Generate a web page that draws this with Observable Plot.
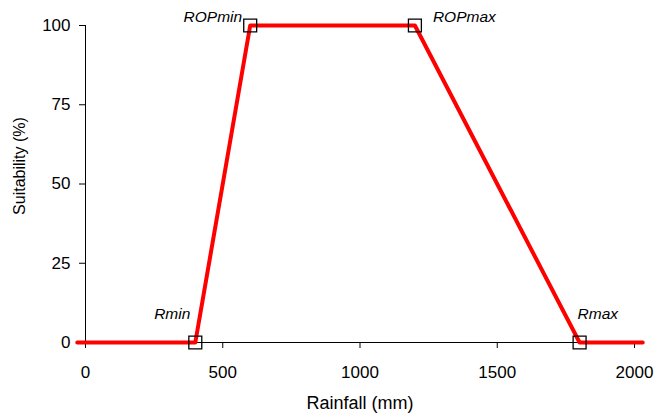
<!DOCTYPE html>
<html>
<head>
<meta charset="utf-8">
<script src="https://cdn.jsdelivr.net/npm/d3@7"></script>
<script src="https://cdn.jsdelivr.net/npm/@observablehq/plot@0.6"></script>
<style>
  html, body { margin: 0; padding: 0; background: #fff; }
  svg { display: block; }
</style>
</head>
<body>
<div id="chart"></div>
<script>
// Suitability curve (rainfall in mm, suitability in %)
const lineRain = [-30, 400, 600, 1200, 1800, 2030];
const lineSuit = [0, 0, 100, 100, 0, 0];

// Key points
const keyNames = ["Rmin", "ROPmin", "ROPmax", "Rmax"];
const keyRain = [400, 600, 1200, 1800];
const keySuit = [0, 100, 100, 0];

// Axes
const xTicks = [0, 500, 1000, 1500, 2000];
const yTicks = [0, 25, 50, 75, 100];
const xLabel = "Rainfall (mm)";
const yLabel = "Suitability (%)";

const lineData = lineRain.map((r, i) => ({rain: r, suit: lineSuit[i]}));
const keyData = keyNames.map((n, i) => ({name: n, rain: keyRain[i], suit: keySuit[i]}));

// label placement (style only)
const labelStyle = {
  Rmin:   {anchor: "end",   dx: -5,  dy: -28},
  ROPmin: {anchor: "end",   dx: -8,  dy: -8},
  ROPmax: {anchor: "start", dx: 18,  dy: -8},
  Rmax:   {anchor: "start", dx: -2,  dy: -28}
};

const font = "'Liberation Sans', Arial, sans-serif";

const labelMarks = keyData.map(d => Plot.text([d], {
  x: "rain", y: "suit", text: "name",
  textAnchor: labelStyle[d.name].anchor,
  dx: labelStyle[d.name].dx, dy: labelStyle[d.name].dy,
  fontSize: 15.5, fontStyle: "italic", fill: "#000"
}));

const chart = Plot.plot({
  width: 655,
  height: 417,
  marginLeft: 85,
  marginRight: 21,
  marginTop: 25,
  marginBottom: 75,
  style: {fontFamily: font, fontSize: "17px", background: "#fff", color: "#000"},
  x: {domain: [0, 2000], ticks: xTicks, tickSize: 6, tickPadding: 17, label: null, tickFormat: d => String(d)},
  y: {domain: [0, 100], ticks: yTicks, tickSize: 6, tickPadding: 9, label: null},
  marks: [
    Plot.ruleX([0], {stroke: "#000", strokeWidth: 1}),
    Plot.ruleY([0], {stroke: "#000", strokeWidth: 1}),
    Plot.line(lineData, {x: "rain", y: "suit", stroke: "#ff0000", strokeWidth: 4}),
    Plot.dot(keyData, {x: "rain", y: "suit", symbol: "square", r: 7.3, stroke: "#000", strokeWidth: 1.3, fill: "none"}),
    ...labelMarks,
    Plot.text([xLabel], {frameAnchor: "bottom", textAnchor: "middle", dy: 66, fontSize: 18, fill: "#000"}),
    Plot.text([yLabel], {frameAnchor: "left", textAnchor: "middle", rotate: -90, dx: -66, dy: -18, fontSize: 16, fill: "#000"})
  ]
});

document.getElementById("chart").appendChild(chart);
</script>
</body>
</html>
